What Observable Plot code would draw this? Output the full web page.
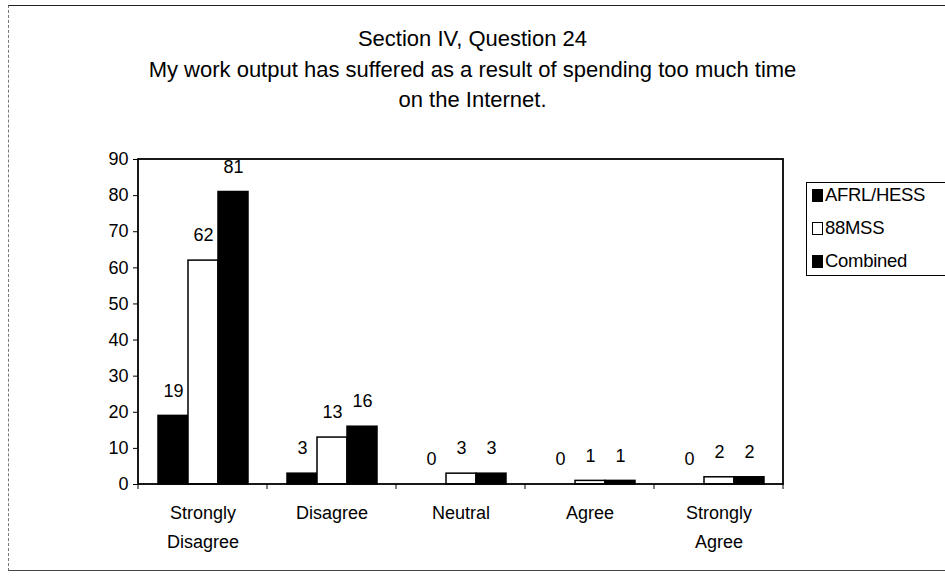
<!DOCTYPE html>
<html>
<head>
<meta charset="utf-8">
<script src="https://cdn.jsdelivr.net/npm/d3@7"></script>
<script src="https://cdn.jsdelivr.net/npm/@observablehq/plot@0.6"></script>
<style>
  html, body { margin: 0; padding: 0; background: #fff; }
  body { width: 945px; height: 581px; position: relative; overflow: hidden; font-family: "Liberation Sans", Arial, sans-serif; color: #000; }
  #frame { position: absolute; left: 8px; top: 5px; width: 960px; height: 564px; border-top: 1.5px solid #222; border-left: 1px dashed #777; border-bottom: 1.5px solid #444; }
  #title { position: absolute; left: 0; top: 24px; width: 945px; text-align: center; font-size: 22px; line-height: 30.5px; }
  #chart { position: absolute; left: 0; top: 130px; }
  #legend { position: absolute; left: 806px; top: 182px; width: 160px; height: 92px; border: 1px solid #000; border-right: none; background: #fff; }
  .item { position: absolute; left: 5px; font-size: 18.5px; line-height: 20px; height: 20px; letter-spacing: -0.3px; }
  .sw { display: inline-block; width: 9px; height: 11px; border: 1.3px solid #000; margin-right: 2px; vertical-align: -1px; }
</style>
</head>
<body>
<div id="frame"></div>
<div id="title">Section IV, Question 24<br>My work output has suffered as a result of spending too much time<br>on the Internet.</div>
<div id="chart"></div>
<div id="legend"></div>
<script>
const categories = ["Strongly Disagree", "Disagree", "Neutral", "Agree", "Strongly Agree"];
const categoryLabels = ["Strongly\nDisagree", "Disagree", "Neutral", "Agree", "Strongly\nAgree"];
const series = ["AFRL/HESS", "88MSS", "Combined"];
const seriesFill = ["#000000", "#ffffff", "#000000"];
const afrlHess = [19, 3, 0, 0, 0];
const mss88 = [62, 13, 3, 1, 2];
const combined = [81, 16, 3, 1, 2];
const yTicks = [0, 10, 20, 30, 40, 50, 60, 70, 80, 90];

const seriesValues = [afrlHess, mss88, combined];
const data = [];
categories.forEach((c, i) => {
  series.forEach((s, j) => data.push({cat: c, series: s, value: seriesValues[j][i]}));
});
const labelOf = new Map(categories.map((c, i) => [c, categoryLabels[i]]));

const hasAxisMarks = typeof Plot.axisFx === "function";
const marks = [
  Plot.barY(data, {fx: "cat", x: "series", y: "value", fill: "series", stroke: "#000", strokeWidth: 1.5}),
  Plot.text(data, {fx: "cat", x: "series", y: "value", text: d => String(d.value), dy: -25, fontSize: 18, fill: "#000"})
];
if (hasAxisMarks) {
  marks.push(Plot.axisFx({anchor: "bottom", tickFormat: c => labelOf.get(c), tickSize: 0, tickPadding: 14, lineHeight: 1.6, fontSize: 18, label: null}));
  marks.push(Plot.axisY({ticks: yTicks, tickSize: 5, tickPadding: 5, fontSize: 18, label: null}));
}

const plot = Plot.plot({
  width: 945,
  height: 451,
  marginLeft: 138,
  marginRight: 162,
  marginTop: 29,
  marginBottom: 97,
  style: {fontFamily: "'Liberation Sans', Arial, sans-serif", fontSize: "18px", color: "#000", background: "transparent"},
  fx: hasAxisMarks ? {domain: categories, padding: 0} : {domain: categories, padding: 0, axis: "bottom", label: null, tickSize: 0, tickPadding: 14, tickFormat: c => labelOf.get(c)},
  x: {domain: series, paddingInner: 0, paddingOuter: 0.65, axis: null},
  y: hasAxisMarks ? {domain: [0, 90], axis: null} : {domain: [0, 90], ticks: yTicks, tickSize: 5, tickPadding: 5, label: null},
  color: {domain: series, range: seriesFill},
  marks
});
document.getElementById("chart").appendChild(plot);

// plot-area frame and category boundary ticks, from the library's scales
const fxS = plot.scale("fx");
const yS = plot.scale("y");
const band = d3.scaleBand().domain(fxS.domain).range(fxS.range).padding(0);
const xL = fxS.range[0], xR = fxS.range[1];
const yTop = yS.apply(90), yBot = yS.apply(0);
const svg = d3.select(plot);
svg.append("rect").attr("x", xL).attr("y", yTop).attr("width", xR - xL).attr("height", yBot - yTop)
  .attr("fill", "none").attr("stroke", "#000").attr("stroke-width", 1.8);
const bounds = categories.map(c => band(c)).concat([band(categories[categories.length - 1]) + band.step()]);
svg.selectAll("line.bt").data(bounds).join("line").attr("class", "bt")
  .attr("x1", d => d).attr("x2", d => d).attr("y1", yBot).attr("y2", yBot + 5)
  .attr("stroke", "#000").attr("stroke-width", 1);

// legend
const legend = document.getElementById("legend");
series.forEach((s, j) => {
  const div = document.createElement("div");
  div.className = "item";
  div.style.top = (2 + j * 33) + "px";
  const sw = document.createElement("span");
  sw.className = "sw";
  sw.style.background = seriesFill[j];
  div.appendChild(sw);
  div.appendChild(document.createTextNode(s));
  legend.appendChild(div);
});
</script>
</body>
</html>
